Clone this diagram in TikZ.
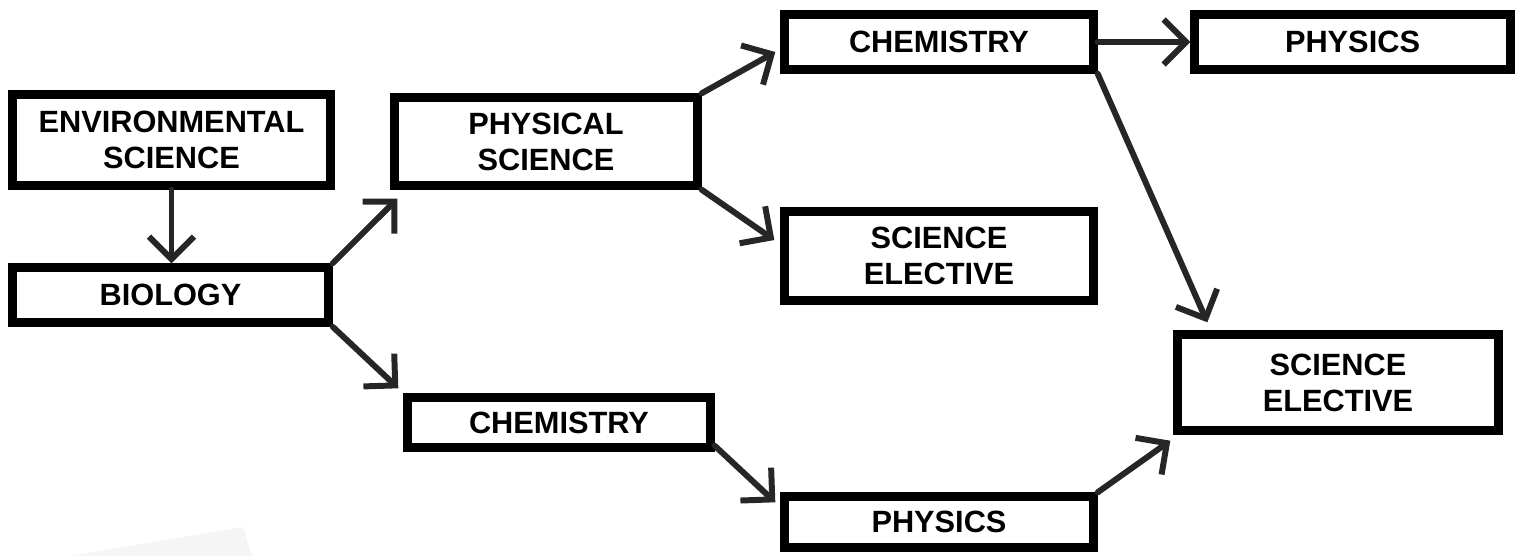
\documentclass[tikz,border=0pt]{standalone}
\usepackage{fontspec}
\setmainfont{Liberation Sans}
\usetikzlibrary{arrows.meta,calc}
\begin{document}
\begin{tikzpicture}[x=0.02cm,y=-0.02cm,
  course/.style={draw, line width=4.8pt, inner sep=0pt, align=center,
    font=\fontsize{17.5}{20.5}\selectfont\bfseries},
  flow/.style={line width=3.4pt, line cap=round, draw=black!85,
    -{Straight Barb[length=0.45cm,width=0.9cm]}}]
\useasboundingbox (0,0) rectangle (1530,556);
% faint paper edge, bottom left
\fill[black!4] (70,556) -- (243,527) -- (252,556) -- cycle;
% first column
\node[course, minimum width=6.36cm, minimum height=1.82cm] (env) at (171.5,140) {ENVIRONMENTAL\\SCIENCE};
\node[course, minimum width=6.32cm, minimum height=1.1cm] (bio) at (170.5,295) {BIOLOGY};
% second column
\node[course, minimum width=6.06cm, minimum height=1.76cm] (physci) at (546,141.5) {PHYSICAL\\SCIENCE};
\node[course, minimum width=6.06cm, minimum height=1.0cm] (chemB) at (559,422.5) {CHEMISTRY};
% third column
\node[course, minimum width=6.18cm, minimum height=1.1cm] (chemA) at (939,42) {CHEMISTRY};
\node[course, minimum width=6.18cm, minimum height=1.78cm] (electA) at (939,256) {SCIENCE\\ELECTIVE};
\node[course, minimum width=6.18cm, minimum height=1.02cm] (physB) at (939,522) {PHYSICS};
% fourth column
\node[course, minimum width=6.32cm, minimum height=1.1cm] (physA) at (1352.5,42) {PHYSICS};
\node[course, minimum width=6.42cm, minimum height=1.92cm] (electB) at (1338,382.5) {SCIENCE\\ELECTIVE};
% arrows
\draw[flow] (env.south) -- (env.south |- bio.north);
\draw[flow] (bio.north east) -- ($(physci.south west)+(7,9)$);
\draw[flow] (bio.south east) -- ($(chemB.north west)+(-5,-5)$);
\draw[flow] (physci.north east) -- ($(chemA.west)+(-5,10)$);
\draw[flow] (physci.south east) -- ($(electA.west)+(-6,-16)$);
\draw[flow] (chemA.east) -- (physA.west);
\draw[flow] (chemA.south east) -- ($(electB.north west)+(34,-8)$);
\draw[flow] ($(chemB.south east)+(0,-6)$) -- ($(physB.north west)+(-5,10)$);
\draw[flow] (physB.north east) -- ($(electB.south west)+(-3,6)$);
\end{tikzpicture}
\end{document}
